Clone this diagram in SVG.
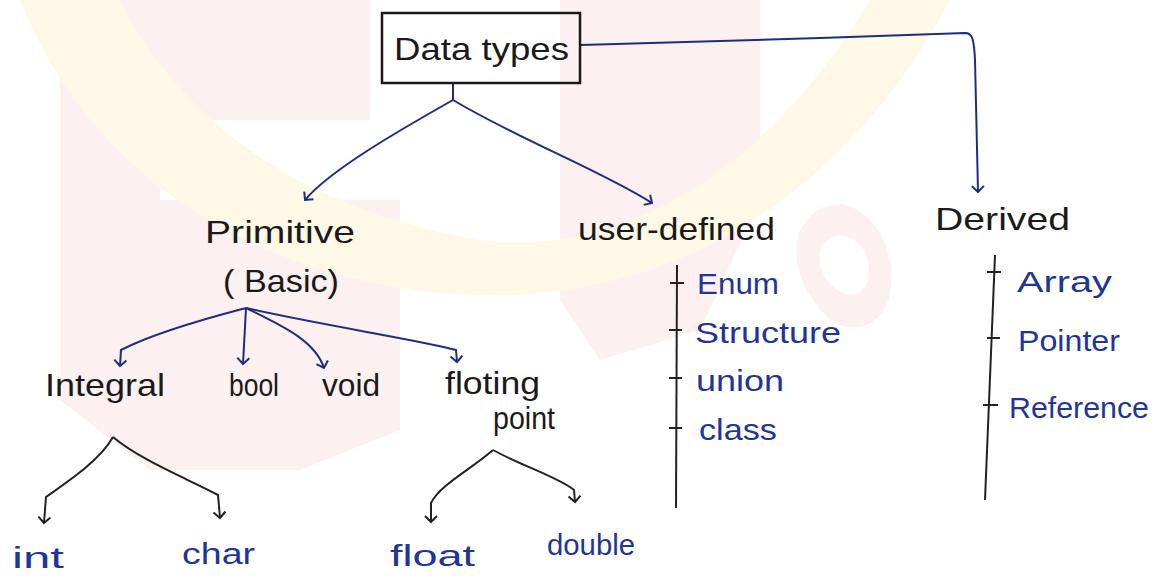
<svg xmlns="http://www.w3.org/2000/svg" width="1159" height="576" viewBox="0 0 1159 576">
<defs>
<marker id="arr" viewBox="0 0 14 14" refX="12" refY="7" markerWidth="14" markerHeight="14" markerUnits="userSpaceOnUse" orient="auto">
<path d="M6,1 L12,7 L6,13" fill="none" stroke="#1d2d82" stroke-width="2"/>
</marker>
<marker id="arrk" viewBox="0 0 14 14" refX="12" refY="7" markerWidth="14" markerHeight="14" markerUnits="userSpaceOnUse" orient="auto">
<path d="M6,1 L12,7 L6,13" fill="none" stroke="#222" stroke-width="2"/>
</marker>
</defs>
<style>
.t{font-family:"Liberation Sans","DejaVu Sans",sans-serif;fill:#1a1a1a;font-size:32px}
.b{font-family:"Liberation Sans","DejaVu Sans",sans-serif;fill:#1f3599;font-size:30px}
.ln{fill:none;stroke:#1d2d82;stroke-width:2}
.lk{fill:none;stroke:#222;stroke-width:2}
.wm{stroke:none}
</style>
<rect width="1159" height="576" fill="#ffffff"/>
<g id="watermark">
<path class="wm" d="M60,0 L370,0 L370,120 L160,120 L160,200 L400,200 L400,430 L300,470 L150,470 L60,400 Z" fill="#fdf0f0"/>
<path class="wm" d="M560,0 L760,0 L760,200 L700,330 L600,360 L560,300 Z" fill="#fdf0f0"/>
<path class="wm" d="M800,230 C830,180 880,210 890,260 C900,320 860,340 830,320 C800,290 790,260 800,230 Z M820,250 C815,290 860,310 868,280 C875,240 835,220 820,250 Z" fill="#fdf0f0" fill-rule="evenodd"/>
<path class="wm" d="M20,0 L120,0 C180,120 300,210 480,240 C640,260 780,150 870,0 L950,0 C860,170 700,300 480,295 C270,290 90,180 20,0 Z" fill="#fef8e6"/>
</g>
<g id="connectors">
<path class="ln" d="M453,83 L453,100 C400,130 330,170 305,200" marker-end="url(#arr)"/>
<path class="ln" d="M453,100 C520,140 600,170 652,203" marker-end="url(#arr)"/>
<path class="ln" d="M581,45 L820,38 L965,33 C972,33 974,38 975,60 L978,192" marker-end="url(#arr)"/>
<path class="ln" d="M246,308 C200,320 150,335 121,350 L120,366" marker-end="url(#arr)"/>
<path class="ln" d="M246,308 L243,364" marker-end="url(#arr)"/>
<path class="ln" d="M246,308 C280,325 315,340 324,368" marker-end="url(#arr)"/>
<path class="ln" d="M246,308 C320,325 420,340 456,350 L457,362" marker-end="url(#arr)"/>
<path class="lk" d="M113,437 C100,460 70,480 46,497 L44,523" marker-end="url(#arrk)"/>
<path class="lk" d="M113,437 C140,460 190,480 218,495 L220,518" marker-end="url(#arrk)"/>
<path class="lk" d="M493,450 C470,470 440,485 431,503 L431,522" marker-end="url(#arrk)"/>
<path class="lk" d="M493,450 C520,465 560,478 574,490 L575,502" marker-end="url(#arrk)"/>
<path class="lk" d="M677,265 L676,508"/>
<path class="lk" d="M670,283 L684,283 M669,330 L682,330 M669,378 L682,378 M669,428 L682,428"/>
<path class="lk" d="M995,255 L985,500"/>
<path class="lk" d="M987,272 L1001,272 M987,338 L1000,338 M983,405 L998,405"/>
</g>
<g id="n-datatypes">
<rect x="382" y="13" width="198" height="70" fill="none" stroke="#1a1a1a" stroke-width="2.5"/>
<text class="t" x="394" y="60" textLength="175" lengthAdjust="spacingAndGlyphs" font-size="34">Data types</text>
</g>
<g id="n-primitive">
<text class="t" x="205" y="243" textLength="150" lengthAdjust="spacingAndGlyphs">Primitive</text>
<text class="t" x="223" y="292" textLength="116" lengthAdjust="spacingAndGlyphs">( Basic)</text>
</g>
<g id="n-userdefined">
<text class="t" x="578" y="240" textLength="197" lengthAdjust="spacingAndGlyphs">user-defined</text>
</g>
<g id="n-derived">
<text class="t" x="935" y="230" textLength="135" lengthAdjust="spacingAndGlyphs">Derived</text>
</g>
<g id="n-enum"><text class="b" x="697" y="294" textLength="82" lengthAdjust="spacingAndGlyphs">Enum</text></g>
<g id="n-structure"><text class="b" x="695" y="343" textLength="146" lengthAdjust="spacingAndGlyphs">Structure</text></g>
<g id="n-union"><text class="b" x="696" y="391" textLength="88" lengthAdjust="spacingAndGlyphs">union</text></g>
<g id="n-class"><text class="b" x="699" y="440" textLength="78" lengthAdjust="spacingAndGlyphs">class</text></g>
<g id="n-array"><text class="b" x="1017" y="292" textLength="95" lengthAdjust="spacingAndGlyphs" font-size="34">Array</text></g>
<g id="n-pointer"><text class="b" x="1018" y="351" textLength="102" lengthAdjust="spacingAndGlyphs">Pointer</text></g>
<g id="n-reference"><text class="b" x="1009" y="418" textLength="140" lengthAdjust="spacingAndGlyphs">Reference</text></g>
<g id="n-integral"><text class="t" x="45" y="396" textLength="120" lengthAdjust="spacingAndGlyphs">Integral</text></g>
<g id="n-bool"><text class="t" x="229" y="396" textLength="50" lengthAdjust="spacingAndGlyphs">bool</text></g>
<g id="n-void"><text class="t" x="322" y="396" textLength="58" lengthAdjust="spacingAndGlyphs">void</text></g>
<g id="n-floating">
<text class="t" x="445" y="394" textLength="95" lengthAdjust="spacingAndGlyphs">floting</text>
<text class="t" x="493" y="429" textLength="62" lengthAdjust="spacingAndGlyphs">point</text>
</g>
<g id="n-int"><text class="b" x="12" y="568" textLength="52" lengthAdjust="spacingAndGlyphs">int</text></g>
<g id="n-char"><text class="b" x="182" y="564" textLength="73" lengthAdjust="spacingAndGlyphs">char</text></g>
<g id="n-float"><text class="b" x="390" y="566" textLength="85" lengthAdjust="spacingAndGlyphs" font-size="34">float</text></g>
<g id="n-double"><text class="b" x="547" y="555" textLength="88" lengthAdjust="spacingAndGlyphs">double</text></g>
</svg>
